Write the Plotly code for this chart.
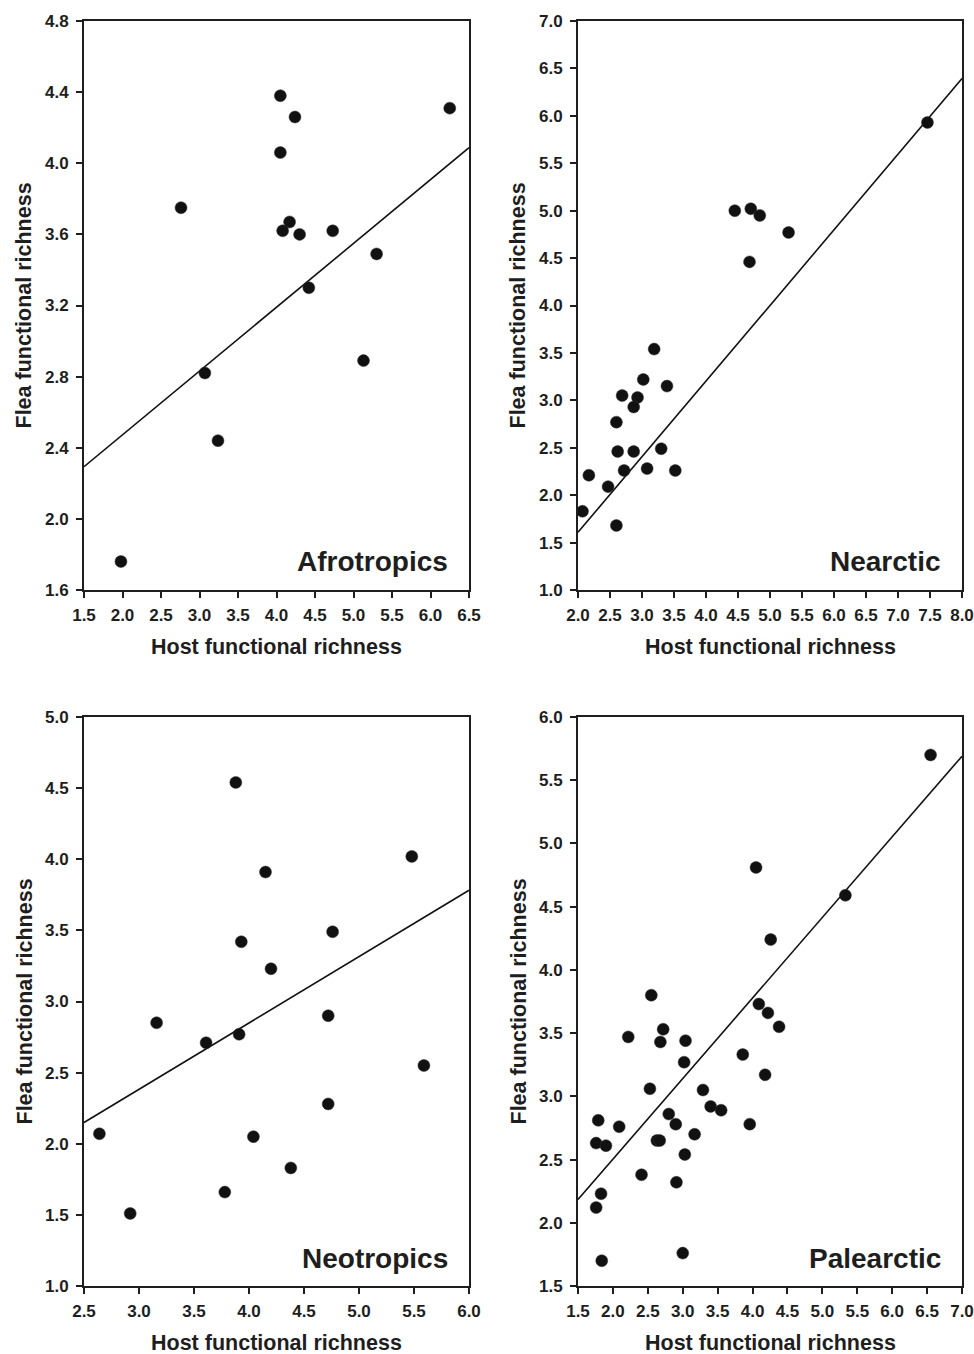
import plotly.graph_objects as go

W, H = 974, 1354

# ---------------- data ----------------
afro_x = [1.98, 2.76, 3.07, 3.24, 4.05, 4.05, 4.24, 4.17, 4.08, 4.30, 4.42, 4.73, 5.30, 5.13, 6.25]
afro_y = [1.76, 3.75, 2.82, 2.44, 4.38, 4.06, 4.26, 3.67, 3.62, 3.60, 3.30, 3.62, 3.49, 2.89, 4.31]

nearc_x = [7.46, 4.45, 4.70, 4.84, 5.29, 4.68, 3.19, 3.02, 3.39, 2.69, 2.93, 2.87,
           2.60, 2.62, 2.87, 3.30, 2.72, 3.08, 3.52, 2.17, 2.47, 2.07, 2.60]
nearc_y = [5.93, 5.00, 5.02, 4.95, 4.77, 4.46, 3.54, 3.22, 3.15, 3.05, 3.03, 2.93,
           2.77, 2.46, 2.46, 2.49, 2.26, 2.28, 2.26, 2.21, 2.09, 1.83, 1.68]

neot_x = [3.88, 5.48, 4.15, 4.76, 3.93, 4.20, 4.72, 3.16, 3.61, 3.91, 5.59, 4.72,
          2.64, 4.04, 4.38, 3.78, 2.92]
neot_y = [4.54, 4.02, 3.91, 3.49, 3.42, 3.23, 2.90, 2.85, 2.71, 2.77, 2.55, 2.28,
          2.07, 2.05, 1.83, 1.66, 1.51]

pal_x = [6.55, 4.05, 5.33, 4.26, 2.55, 4.09, 4.22, 4.38, 2.72,
         2.22, 2.68, 3.04, 3.86, 3.02, 4.18, 2.53, 3.29, 3.40, 3.55, 2.80, 1.79,
         2.09, 2.90, 3.96, 3.17, 1.76, 1.90, 2.63, 2.67, 3.03, 2.41, 2.91, 1.83,
         1.76, 3.00, 1.84]
pal_y = [5.70, 4.81, 4.59, 4.24, 3.80, 3.73, 3.66, 3.55, 3.53,
         3.47, 3.43, 3.44, 3.33, 3.27, 3.17, 3.06, 3.05, 2.92, 2.89, 2.86, 2.81,
         2.76, 2.78, 2.78, 2.70, 2.63, 2.61, 2.65, 2.65, 2.54, 2.38, 2.32, 2.23,
         2.12, 1.76, 1.70]

region_names = ["Afrotropics", "Nearctic", "Neotropics", "Palearctic"]
fit_intercepts = [1.755, 0.014, 0.984, 1.227]
fit_slopes = [0.3588, 0.7973, 0.4663, 0.6376]

x_ranges = [[1.5, 6.5], [2.0, 8.0], [2.5, 6.0], [1.5, 7.0]]
y_ranges = [[1.6, 4.8], [1.0, 7.0], [1.0, 5.0], [1.5, 6.0]]
y_dticks = [0.4, 0.5, 0.5, 0.5]
x_dtick = 0.5

x_title = "Host functional richness"
y_title = "Flea functional richness"

# ---------------- layout geometry (pixels) ----------------
panels_px = [  # left, right, top, bottom
    (84, 469, 21, 590),
    (578, 962, 21, 590),
    (84, 469, 717, 1286),
    (578, 962, 717, 1286),
]

FONT = "Liberation Sans, Arial, Helvetica, sans-serif"
INK = "#1e1e1e"

series = [(afro_x, afro_y), (nearc_x, nearc_y), (neot_x, neot_y), (pal_x, pal_y)]

fig = go.Figure()
layout = dict(
    width=W, height=H,
    margin=dict(l=0, r=0, t=0, b=0, autoexpand=False),
    paper_bgcolor="white", plot_bgcolor="white",
    showlegend=False,
    font=dict(family=FONT, color=INK),
)
annotations = []

for i, ((xs, ys), (l, r, t, b)) in enumerate(zip(series, panels_px)):
    n = i + 1
    xa = "x" if n == 1 else f"x{n}"
    ya = "y" if n == 1 else f"y{n}"
    xkey = "xaxis" if n == 1 else f"xaxis{n}"
    ykey = "yaxis" if n == 1 else f"yaxis{n}"

    x0, x1 = x_ranges[i]
    lx = [x0, x1]
    ly = [fit_intercepts[i] + fit_slopes[i] * v for v in lx]
    fig.add_trace(go.Scatter(x=lx, y=ly, mode="lines", xaxis=xa, yaxis=ya,
                             line=dict(color="#111111", width=1.6), hoverinfo="skip"))
    fig.add_trace(go.Scatter(x=xs, y=ys, mode="markers", xaxis=xa, yaxis=ya,
                             marker=dict(size=12, color="#111111",
                                         line=dict(color="#333333", width=0.5)),
                             cliponaxis=False))

    dom_x = [l / W, r / W]
    dom_y = [1 - b / H, 1 - t / H]
    common = dict(
        showgrid=False, zeroline=False, showline=True, linecolor=INK, linewidth=2,
        mirror=True, ticks="outside", ticklen=6, tickwidth=1.5, tickcolor=INK,
        tickfont=dict(family=FONT, size=17, color=INK, weight="bold"),
        tickformat=".1f", fixedrange=True, automargin=False,
    )
    layout[xkey] = dict(common, domain=dom_x, range=x_ranges[i], tick0=x_ranges[i][0],
                        dtick=x_dtick, anchor=ya, ticklabelstandoff=3)
    layout[ykey] = dict(common, domain=dom_y, range=y_ranges[i], tick0=y_ranges[i][0],
                        dtick=y_dticks[i], anchor=xa, ticklabelstandoff=4)

    # axis titles
    annotations.append(dict(
        text=f"<b>{x_title}</b>", xref="paper", yref="paper",
        x=(l + r) / 2 / W, y=1 - (b + 57) / H, xanchor="center", yanchor="middle",
        showarrow=False, font=dict(family=FONT, size=21.5, color=INK)))
    annotations.append(dict(
        text=f"<b>{y_title}</b>", xref="paper", yref="paper",
        x=(l - 60) / W, y=1 - (t + b) / 2 / H, xanchor="center", yanchor="middle",
        textangle=-90, showarrow=False, font=dict(family=FONT, size=21.5, color=INK)))
    # region label
    annotations.append(dict(
        text=f"<b>{region_names[i]}</b>", xref="paper", yref="paper",
        x=(r - 19) / W, y=1 - (b - 28) / H, xanchor="right", yanchor="middle",
        showarrow=False, font=dict(family=FONT, size=28, color=INK)))

layout["annotations"] = annotations
fig.update_layout(**layout)
fig.write_html(
    "out.html",
    config={"displayModeBar": False},
    post_script="document.body.style.margin='0';document.body.style.overflow='hidden';",
)
